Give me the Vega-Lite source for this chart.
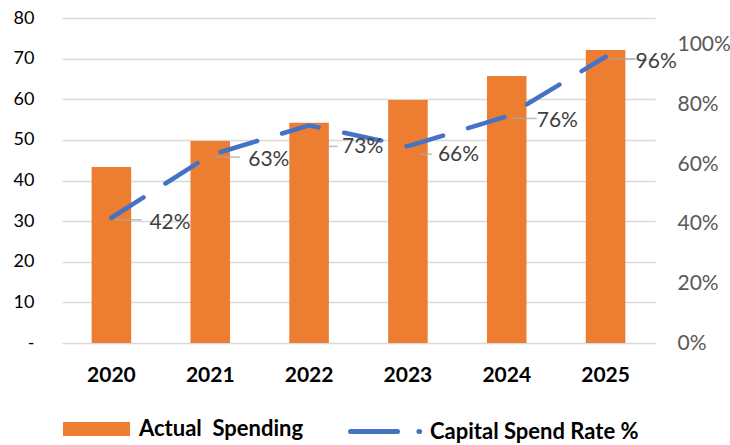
{
  "$schema": "https://vega.github.io/schema/vega-lite/v6.json",
  "width": 593,
  "height": 325,
  "autosize": "none",
  "padding": {"left": 62, "top": 18, "right": 75, "bottom": 102},
  "background": "white",
  "config": {
    "view": {"stroke": null},
    "font": "Lato",
    "axis": {"labelFont": "Lato", "titleFont": "Lato"},
    "legend": {"labelFont": "Lato"}
  },
  "data": {
    "values": [
      {"year": "2020", "spending": 43.3, "rate": 0.42},
      {"year": "2021", "spending": 49.7, "rate": 0.63},
      {"year": "2022", "spending": 54.2, "rate": 0.73},
      {"year": "2023", "spending": 59.8, "rate": 0.66},
      {"year": "2024", "spending": 65.7, "rate": 0.76},
      {"year": "2025", "spending": 72.1, "rate": 0.96}
    ]
  },
  "encoding": {
    "x": {
      "field": "year",
      "type": "nominal",
      "scale": {"paddingInner": 0.6, "paddingOuter": 0.3},
      "axis": {
        "title": null,
        "labelAngle": 0,
        "labelFontWeight": "bold",
        "labelFontSize": 21,
        "labelColor": "#000000",
        "domain": false,
        "ticks": false,
        "tickSize": 0,
        "labelPadding": 21
      }
    }
  },
  "layer": [
    {
      "mark": {"type": "bar"},
      "encoding": {
        "y": {
          "field": "spending",
          "type": "quantitative",
          "scale": {"domain": [0, 80]},
          "axis": {
            "title": null,
            "values": [0, 10, 20, 30, 40, 50, 60, 70, 80],
            "labelExpr": "datum.value === 0 ? '-\u00a0\u00a0\u00a0' : datum.label",
            "labelFontSize": 18,
            "labelColor": "#000000",
            "domain": false,
            "ticks": false,
            "tickSize": 0,
            "labelPadding": 28,
            "grid": true,
            "gridColor": "#D9D9D9",
            "gridWidth": 1.3
          }
        },
        "fill": {
          "datum": "Actual\u00a0 Spending",
          "scale": {"range": ["#ED7D31"]},
          "legend": {
            "orient": "none",
            "legendX": 1,
            "legendY": 377.5,
            "title": null,
            "padding": 0,
            "symbolType": "M-1,-0.209H1V0.209H-1Z",
            "symbolSize": 4489,
            "symbolStrokeWidth": 0,
            "symbolOpacity": 1,
            "labelFontSize": 22,
            "labelFontWeight": "bold",
            "labelColor": "#000000",
            "labelOffset": 9,
            "labelLimit": 0
          }
        }
      }
    },
    {
      "encoding": {
        "y": {
          "field": "rate",
          "type": "quantitative",
          "scale": {"domain": [0, 1.09]},
          "axis": {
            "orient": "right",
            "title": null,
            "values": [0, 0.2, 0.4, 0.6, 0.8, 1.0],
            "format": ".0%",
            "labelFontSize": 21,
            "labelColor": "#595959",
            "domain": false,
            "ticks": false,
            "tickSize": 0,
            "labelPadding": 22,
            "grid": false
          }
        }
      },
      "layer": [
        {
          "transform": [{"filter": {"field": "year", "oneOf": ["2020", "2021", "2024", "2025"]}}],
          "mark": {"type": "tick", "size": 26, "thickness": 1.6, "xOffset": 17, "yOffset": 2, "color": "#A6A6A6"}
        },
        {
          "transform": [{"filter": {"field": "year", "oneOf": ["2022"]}}],
          "mark": {"type": "tick", "size": 11, "thickness": 1.6, "xOffset": 23, "yOffset": 21, "color": "#A6A6A6"}
        },
        {
          "transform": [{"filter": {"field": "year", "oneOf": ["2023"]}}],
          "mark": {"type": "tick", "size": 12, "thickness": 1.6, "xOffset": 18, "yOffset": 8, "color": "#A6A6A6"}
        },
        {
          "mark": {"type": "line", "color": "#4472C4", "strokeWidth": 4.5, "strokeDash": [38, 26], "strokeCap": "round", "strokeJoin": "round"}
        },
        {
          "transform": [{"filter": "false"}],
          "mark": {"type": "line", "strokeWidth": 5, "strokeCap": "round"},
          "encoding": {
            "stroke": {
              "datum": "Capital Spend Rate %",
              "scale": {"range": ["#4472C4"]},
              "legend": {
                "orient": "none",
                "legendX": 286,
                "legendY": 375,
                "title": null,
                "padding": 0,
                "symbolType": "M-1,0L0.306,0M0.9,0L0.92,0",
                "symbolSize": 5184,
                "symbolStrokeWidth": 5,
                "labelFontSize": 22,
                "labelFontWeight": "bold",
                "labelColor": "#000000",
                "labelOffset": 5,
                "labelLimit": 0,
                "encode": {"symbols": {"update": {"strokeCap": {"value": "round"}, "strokeDash": {"value": []}, "fill": {"value": "transparent"}}}}
              }
            }
          }
        },
        {
          "transform": [{"filter": {"field": "year", "oneOf": ["2020", "2021"]}}],
          "mark": {"type": "text", "align": "left", "baseline": "middle", "dx": 38, "dy": 5, "fontSize": 21, "color": "#404040"},
          "encoding": {"text": {"field": "rate", "format": ".0%"}}
        },
        {
          "transform": [{"filter": {"field": "year", "oneOf": ["2022"]}}],
          "mark": {"type": "text", "align": "left", "baseline": "middle", "dx": 33, "dy": 22, "fontSize": 21, "color": "#404040"},
          "encoding": {"text": {"field": "rate", "format": ".0%"}}
        },
        {
          "transform": [{"filter": {"field": "year", "oneOf": ["2023"]}}],
          "mark": {"type": "text", "align": "left", "baseline": "middle", "dx": 30, "dy": 9, "fontSize": 21, "color": "#404040"},
          "encoding": {"text": {"field": "rate", "format": ".0%"}}
        },
        {
          "transform": [{"filter": {"field": "year", "oneOf": ["2024", "2025"]}}],
          "mark": {"type": "text", "align": "left", "baseline": "middle", "dx": 30, "dy": 5, "fontSize": 21, "color": "#404040"},
          "encoding": {"text": {"field": "rate", "format": ".0%"}}
        }
      ]
    }
  ],
  "resolve": {"scale": {"y": "independent", "fill": "independent", "stroke": "independent"}}
}
